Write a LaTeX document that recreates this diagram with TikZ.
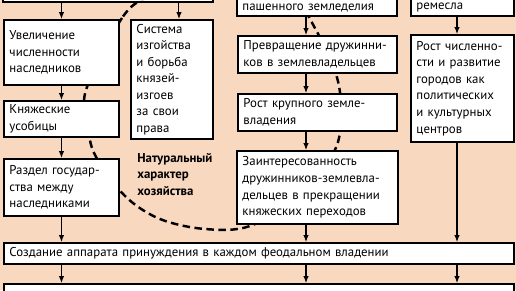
\documentclass[tikz,border=0pt]{standalone}
\usepackage{fontspec}
\setmainfont{PT Sans}
\usetikzlibrary{arrows.meta,positioning}
\definecolor{Peach}{HTML}{F9D8C0}

\begin{document}
\begin{tikzpicture}[x=0.2mm,y=-0.2mm,
    box/.style={draw,fill=white,line width=1.1pt,anchor=north west,align=left,
                inner xsep=1.1mm,inner ysep=0.8mm,font=\fontsize{7.3}{9.4}\selectfont},
    arr/.style={-{Latex[length=1.4mm,width=1.1mm]},line width=0.6pt},
    loopline/.style={line width=1.4pt,dash pattern=on 1.5mm off 0.9mm}]
  \useasboundingbox (0,0) rectangle (516,290);
  \fill[Peach] (0,0) rectangle (516,290);
  \clip (0,0) rectangle (516,290);
  % left column
  \node[box,anchor=south west,minimum width=42mm,minimum height=10mm] (top) at (2,3) {};
  \node[box,text width=20.8mm,minimum height=13mm] (uvel) at (3,19)
    {Увеличение\\численности\\наследников};
  \node[box,text width=14.2mm,minimum height=22.8mm] (sist) at (130,19)
    {Система\\изгойства\\и борьба\\князей-\\изгоев\\за свои\\права};
  \node[box,text width=20.8mm,minimum height=6.6mm] (usob) at (3,100)
    {Княжеские\\усобицы};
  \node[box,text width=20.8mm,minimum height=11.4mm] (razd) at (3,158)
    {Раздел государ-\\ства между\\наследниками};
  \node[anchor=north west,align=left,inner sep=0,
        font=\fontsize{7.3}{9.4}\selectfont\bfseries] (nat) at (137,153)
    {Натуральный\\характер\\хозяйства};
  % middle column
  \node[box,anchor=south west,text width=29.8mm] (pash) at (236,17)
    {\strut\\пашенного земледелия};
  \node[box,text width=29.6mm,minimum height=7.4mm] (prevr) at (237,35)
    {Превращение дружинни-\\ков в землевладельцев};
  \node[box,text width=29.6mm,minimum height=7.4mm] (krup) at (237,93)
    {Рост крупного земле-\\владения};
  \node[box,text width=30mm,minimum height=14.6mm] (zaint) at (236,150)
    {Заинтересованность\\дружинников-землевла-\\дельцев в прекращении\\княжеских переходов};
  % right column
  \node[box,anchor=south west,text width=18.4mm] (rem) at (410,17)
    {\strut\\ремесла};
  \node[box,text width=18.4mm,minimum height=21.4mm] (gor) at (410,34)
    {Рост численно-\\сти и развитие\\городов как\\политических\\и культурных\\центров};
  % bottom rows
  \node[box,text width=99.8mm,minimum height=4.2mm] (sozd) at (3,242)
    {Создание аппарата принуждения в каждом феодальном владении};
  \node[box,text width=99.8mm,minimum height=6mm] (obos) at (3,283)
    {Усиление стремления местных бояр к обособлению от власти Киева};
  % dashed contour, kept out of the boxes (holes run the other way round)
  \begin{scope}
    \clip (0,0) rectangle (516,290)
      (top.north east) rectangle (top.south west)
      (uvel.north east) rectangle (uvel.south west)
      (sist.north east) rectangle (sist.south west)
      (usob.north east) rectangle (usob.south west)
      (razd.north east) rectangle (razd.south west)
      (pash.north east) rectangle (pash.south west)
      (prevr.north east) rectangle (prevr.south west)
      (krup.north east) rectangle (krup.south west)
      (zaint.north east) rectangle (zaint.south west)
      (rem.north east) rectangle (rem.south west)
      (gor.north east) rectangle (gor.south west)
      (sozd.north east) rectangle (sozd.south west);
    \draw[loopline] plot[smooth cycle,tension=0.55] coordinates {(150,-5) (122,18)
      (86,90) (88,125) (95,155) (125,196) (160,219) (205,229) (250,226) (300,195)
      (337,145) (339,86) (316,30) (280,-20) (210,-35)};
  \end{scope}
  % arrows
  \coordinate (sistin) at ([xshift=1.4mm]sist.north);
  \coordinate (midx) at (306,0);
  \coordinate (rightx) at (457,0);
  \draw[arr] (top.south -| uvel.north) -- (uvel.north);
  \draw[arr] (top.south -| sistin) -- (sistin);
  \draw[arr] (uvel) -- (usob);
  \draw[arr] (usob) -- (razd);
  \draw[arr] (razd) -- (razd.south |- sozd.north);
  \draw[arr] (pash.south -| midx) -- (prevr.north -| midx);
  \draw[arr] (prevr.south -| midx) -- (krup.north -| midx);
  \draw[arr] (krup.south -| midx) -- (zaint.north -| midx);
  \draw[arr] (zaint.south -| midx) -- (sozd.north -| midx);
  \draw[arr] (rem.south -| rightx) -- (gor.north -| rightx);
  \draw[arr] (gor.south -| rightx) -- (sozd.north -| rightx);
  \draw[arr] (sozd.south -| razd.south) -- (obos.north -| razd.south);
  \draw[arr] (sozd.south -| midx) -- (obos.north -| midx);
  \draw[arr] (sozd.south -| rightx) -- (obos.north -| rightx);
\end{tikzpicture}
\end{document}
